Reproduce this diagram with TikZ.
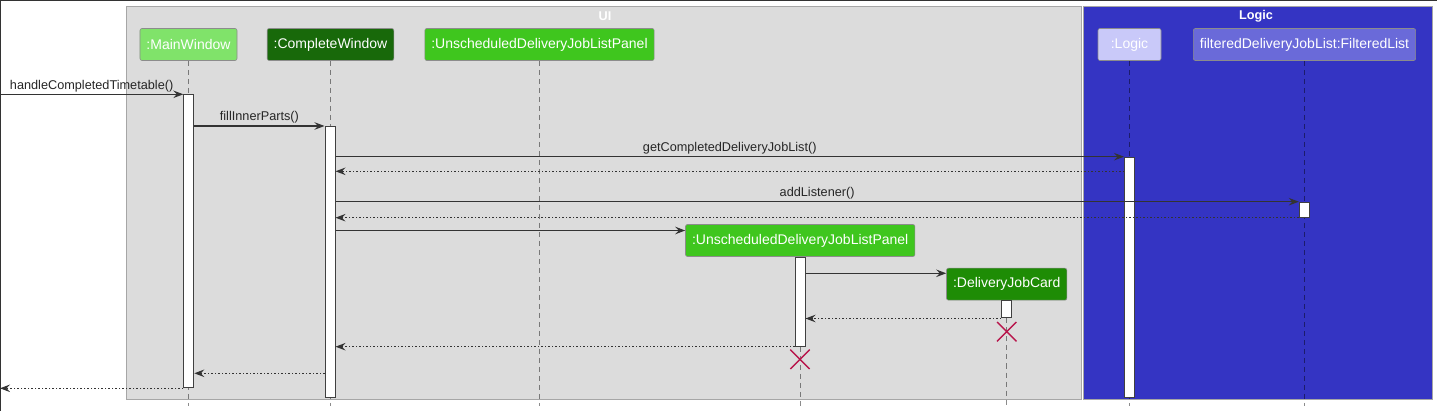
\documentclass[tikz,border=0pt]{standalone}
\usepackage{fontspec}
\setmainfont{Liberation Sans}
\usetikzlibrary{arrows.meta,shapes.misc}
\definecolor{uiGrey}{HTML}{DCDCDC}
\definecolor{logicBlue}{HTML}{3434C3}
\definecolor{mainGreen}{HTML}{80E36A}
\definecolor{completeGreen}{HTML}{18690A}
\definecolor{panelGreen}{HTML}{3FC61E}
\definecolor{cardGreen}{HTML}{1E8C05}
\definecolor{logicLilac}{HTML}{C9C9F9}
\definecolor{listBlue}{HTML}{6A6AD9}
\definecolor{crossRed}{HTML}{B8164C}
\definecolor{frameGrey}{HTML}{333333}

\begin{document}
\begin{tikzpicture}[x=1pt,y=-1pt]
\tikzstyle{head}=[rectangle,rounded corners=2pt,draw=black!45,line width=0.6pt,text=white,minimum height=32pt,inner xsep=6.5pt,font=\fontsize{14}{16}\selectfont]
\tikzstyle{act}=[rectangle,draw=black!75,fill=white,line width=1pt,minimum width=10pt,inner sep=0pt,anchor=north]
\tikzstyle{life}=[draw=black,draw opacity=0.45,line width=0.8pt,dash pattern=on 5pt off 4pt]
\tikzstyle{msg}=[draw=black!80,line width=1.1pt,-{Stealth[length=10pt,width=7.5pt,inset=3.5pt]}]
\tikzstyle{ret}=[msg,dash pattern=on 1.5pt off 2pt]
\tikzstyle{lbl}=[midway,above,inner sep=2pt,text=black!85,font=\fontsize{12.7}{15}\selectfont]
\tikzstyle{group}=[draw=black!35,line width=0.8pt]
\tikzstyle{title}=[text=white,font=\fontsize{12.7}{15}\selectfont\bfseries]
\tikzstyle{gone}=[cross out,draw=crossRed,line width=1.4pt,minimum size=18pt,inner sep=0pt]
\useasboundingbox (0,0) rectangle (1437,411);
\draw[group,fill=uiGrey] (126,6.5) rectangle (1081.5,399.5);
\draw[group,fill=logicBlue] (1083,6.5) rectangle (1432,399.5);
\draw[line width=2pt,frameGrey] (0,411) -- (0,0) -- (1437,0);
\node[title] (uiTitle) at (605,16) {UI};
\node[title] (logicTitle) at (1256,16) {Logic};
\node[head,fill=mainGreen] (main) at (188.5,44.5) {:MainWindow};
\node[head,fill=completeGreen] (complete) at (330.5,44.5) {:CompleteWindow};
\node[head,fill=panelGreen] (panel) at (539.5,44.5) {:UnscheduledDeliveryJobListPanel};
\node[head,fill=logicLilac,minimum width=63pt] (logic) at (1129.5,44.5) {:Logic};
\node[head,fill=listBlue] (filtered) at (1304.5,44.5) {filteredDeliveryJobList:FilteredList};
\node[head,fill=panelGreen] (panelNew) at (800.2,240.5) {:UnscheduledDeliveryJobListPanel};
\node[head,fill=cardGreen] (card) at (1006.7,284.2) {:DeliveryJobCard};
\coordinate (bottom) at (0,406);
\coordinate (caller) at (0,94.3);
\draw[life] (main.south) -- (main.south |- bottom);
\draw[life] (complete.south) -- (complete.south |- bottom);
\draw[life] (panel.south) -- (panel.south |- bottom);
\draw[life] (logic.south) -- (logic.south |- bottom);
\draw[life] (filtered.south) -- (filtered.south |- bottom);
\draw[life] (panelNew.south) -- (panelNew.south |- bottom);
\draw[life] (card.south) -- (card.south |- bottom);
\node[act,minimum height=293pt] (actMain) at (188.8,94.3) {};
\node[act,minimum height=270.7pt] (actComplete) at (330,126) {};
\node[act,minimum height=240pt] (actLogic) at (1129.5,156.7) {};
\node[act,minimum height=15pt] (actFiltered) at (1304.3,201.7) {};
\node[act,minimum height=89pt] (actPanel) at (800,256.7) {};
\node[act,minimum height=17pt] (actCard) at (1006.7,300.5) {};
\coordinate (r1) at (0,171.3);
\coordinate (r2) at (0,230.5);
\coordinate (r3) at (0,273.3);
\coordinate (r4) at (0,373.3);
\draw[msg] (caller) -- (actMain.north west) node[lbl] {handleCompletedTimetable()};
\draw[msg] (actMain.east |- actComplete.north) -- (actComplete.north west) node[lbl] {fillInnerParts()};
\draw[msg] (actComplete.east |- actLogic.north) -- (actLogic.north west) node[lbl] {getCompletedDeliveryJobList()};
\draw[ret] (actLogic.west |- r1) -- (actComplete.east |- r1);
\draw[msg] (actComplete.east |- actFiltered.north) -- (actFiltered.north west) node[lbl] {addListener()};
\draw[ret] (actFiltered.south west) -- (actComplete.east |- actFiltered.south);
\draw[msg] (actComplete.east |- r2) -- (panelNew.west |- r2);
\draw[msg] (actPanel.east |- r3) -- (card.west |- r3);
\draw[ret] (actCard.south west) -- (actPanel.east |- actCard.south);
\draw[ret] (actPanel.south west) -- (actComplete.east |- actPanel.south);
\draw[ret] (actComplete.west |- r4) -- (actMain.east |- r4);
\draw[ret] (actMain.south west) -- (caller |- actMain.south);
\node[gone] (endPanel) at (800,359.3) {};
\node[gone] (endCard) at (1006.7,331.7) {};
\end{tikzpicture}
\end{document}
